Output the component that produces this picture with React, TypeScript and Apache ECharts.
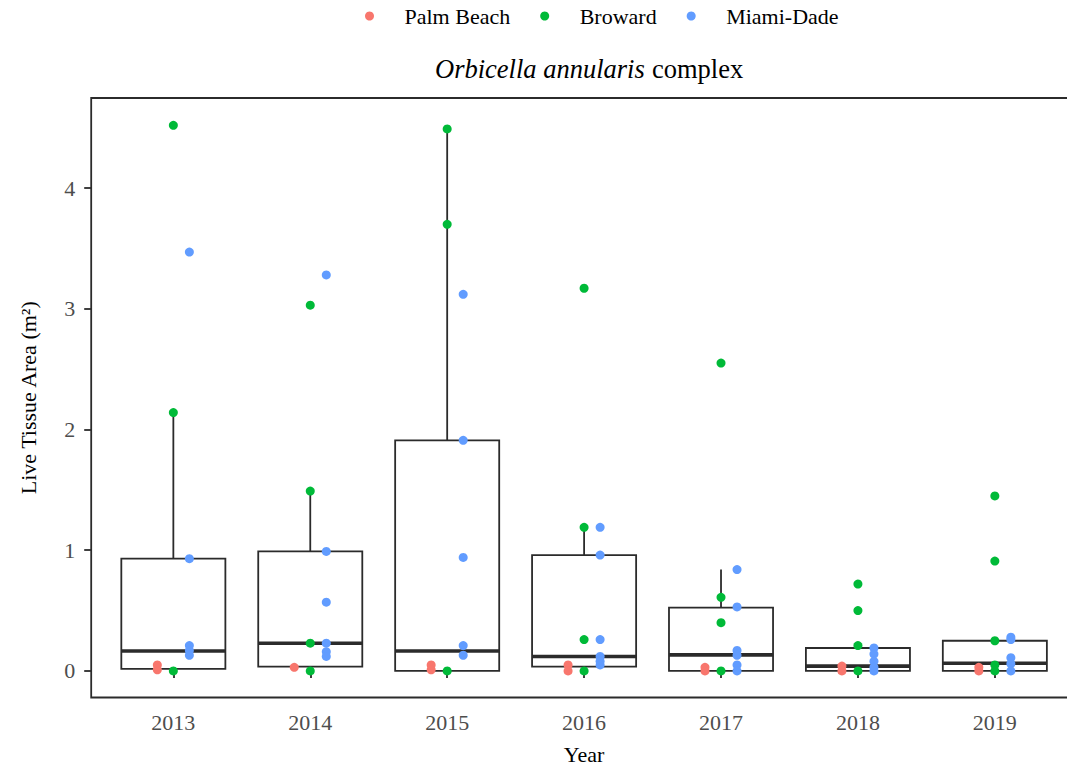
import React, { useEffect, useRef } from "react";
import * as echarts from "echarts";

// Survey years and box statistics of live tissue area (m²)
const years = [2013, 2014, 2015, 2016, 2017, 2018, 2019];
const whiskerLow = [0, 0, 0, 0, 0, 0, 0];
const q1 = [0.017, 0.036, 0.0, 0.036, 0.0, 0.0, 0.0];
const median = [0.165, 0.23, 0.165, 0.12, 0.133, 0.04, 0.064];
const q3 = [0.93, 0.99, 1.91, 0.96, 0.525, 0.19, 0.25];
const whiskerHigh = [2.14, 1.49, 4.49, 1.19, 0.84, 0.21, 0.28];

// Colony values per county, one list per year
const palmBeach = [
  [0.05, 0.01],
  [0.03],
  [0.05, 0.01],
  [0.05, 0.0],
  [0.03, 0.0],
  [0.04, 0.0],
  [0.03, 0.0],
];
const broward = [
  [4.52, 2.14, 0.0],
  [3.03, 1.49, 0.23, 0.0],
  [4.49, 3.7, 0.0],
  [3.17, 1.19, 0.26, 0.0],
  [2.55, 0.61, 0.4, 0.0],
  [0.72, 0.5, 0.21, 0.0],
  [1.45, 0.91, 0.25, 0.05, 0.0],
];
const miamiDade = [
  [3.47, 0.93, 0.21, 0.17, 0.13],
  [3.28, 0.99, 0.57, 0.23, 0.16, 0.12],
  [3.12, 1.91, 0.94, 0.21, 0.13],
  [1.19, 0.96, 0.26, 0.12, 0.08, 0.05],
  [0.84, 0.53, 0.17, 0.13, 0.05, 0.0],
  [0.19, 0.14, 0.08, 0.03, 0.0],
  [0.28, 0.26, 0.11, 0.06, 0.0],
];

const yTicks = [0, 1, 2, 3, 4];

const counties = [
  { name: "Palm Beach", values: palmBeach, color: "#F8766D", dodge: -0.117 },
  { name: "Broward", values: broward, color: "#00BA38", dodge: 0 },
  { name: "Miami-Dade", values: miamiDade, color: "#619CFF", dodge: 0.117 },
];

const FONT = "'Liberation Serif', 'Times New Roman', serif";
const BOX_WIDTH = 0.76;
const INK = "#2b2b2b";

export default function App() {
  const ref = useRef<HTMLDivElement>(null);

  useEffect(() => {
    document.body.style.margin = "0";
    document.body.style.overflow = "hidden";
    document.documentElement.style.overflow = "hidden";
    if (!ref.current) return;
    const chart = echarts.init(ref.current, null, { renderer: "svg" });

    const boxData = years.map((yr, i) => [
      yr,
      whiskerLow[i],
      q1[i],
      median[i],
      q3[i],
      whiskerHigh[i],
    ]);

    const boxSeries = {
      type: "custom",
      name: "box",
      z: 1,
      silent: true,
      encode: { x: 0, y: [1, 2, 3, 4, 5] },
      data: boxData,
      renderItem: (params: any, api: any) => {
        const x = api.value(0);
        const lo = api.coord([x, api.value(1)]);
        const b1 = api.coord([x, api.value(2)]);
        const md = api.coord([x, api.value(3)]);
        const b3 = api.coord([x, api.value(4)]);
        const hi = api.coord([x, api.value(5)]);
        const half = api.size([BOX_WIDTH, 0])[0] / 2;
        const stroke = { stroke: INK, lineWidth: 1.8, fill: "none" };
        return {
          type: "group",
          children: [
            {
              type: "line",
              shape: { x1: hi[0], y1: hi[1], x2: b3[0], y2: b3[1] },
              style: stroke,
            },
            {
              type: "line",
              shape: { x1: lo[0], y1: lo[1], x2: b1[0], y2: b1[1] },
              style: stroke,
            },
            {
              type: "rect",
              shape: {
                x: b3[0] - half,
                y: b3[1],
                width: half * 2,
                height: b1[1] - b3[1],
              },
              style: { stroke: INK, lineWidth: 1.8, fill: "#ffffff" },
            },
            {
              type: "line",
              shape: { x1: md[0] - half, y1: md[1], x2: md[0] + half, y2: md[1] },
              style: { stroke: INK, lineWidth: 3.6 },
            },
          ],
        };
      },
    };

    const pointSeries = counties.map((c) => ({
      type: "scatter",
      name: c.name,
      z: 3,
      symbol: "circle",
      symbolSize: 9,
      itemStyle: { color: c.color, opacity: 1 },
      data: years.flatMap((yr, i) => c.values[i].map((v) => [yr + c.dodge, v])),
    }));

    chart.setOption({
      animation: false,
      backgroundColor: "#ffffff",
      textStyle: { fontFamily: FONT },
      title: [
        {
          text: "Orbicella annularis",
          left: 430,
          top: 50,
          textStyle: {
            fontFamily: FONT,
            fontSize: 26.5,
            fontStyle: "italic",
            fontWeight: "normal",
            color: "#000000",
          },
        },
        {
          text: "complex",
          left: 647,
          top: 50,
          textStyle: {
            fontFamily: FONT,
            fontSize: 26.5,
            fontWeight: "normal",
            color: "#000000",
          },
        },
      ],
      legend: {
        data: counties.map((c) => c.name),
        left: 360,
        top: 0,
        orient: "horizontal",
        icon: "circle",
        itemWidth: 9,
        itemHeight: 9,
        itemGap: 30,
        selectedMode: false,
        textStyle: {
          fontFamily: FONT,
          fontSize: 22,
          color: "#000000",
          padding: [0, 0, 0, 25.5],
        },
      },
      grid: {
        left: 91.2,
        top: 98,
        right: 0,
        bottom: 73.5,
        show: true,
        borderColor: INK,
        borderWidth: 1.8,
        backgroundColor: "#ffffff",
        containLabel: false,
      },
      xAxis: {
        type: "value",
        min: 2012.4,
        max: 2019.6,
        name: "Year",
        nameLocation: "middle",
        nameGap: 46,
        nameTextStyle: { fontFamily: FONT, fontSize: 22, color: "#000000" },
        splitLine: { show: false },
        axisLine: { show: false },
        axisTick: {
          show: true,
          length: 7,
          customValues: years,
          lineStyle: { color: INK, width: 1.8 },
        },
        axisLabel: {
          customValues: years,
          margin: 14,
          fontFamily: FONT,
          fontSize: 22,
          color: "#4d4d4d",
          formatter: (v: number) => String(Math.round(v)),
        },
      },
      yAxis: {
        type: "value",
        min: -0.22,
        max: 4.746,
        name: "Live Tissue Area (m²)",
        nameLocation: "middle",
        nameGap: 52,
        nameTextStyle: { fontFamily: FONT, fontSize: 22, color: "#000000" },
        splitLine: { show: false },
        axisLine: { show: false },
        axisTick: {
          show: true,
          length: 7,
          customValues: yTicks,
          lineStyle: { color: INK, width: 1.8 },
        },
        axisLabel: {
          customValues: yTicks,
          margin: 16,
          fontFamily: FONT,
          fontSize: 22,
          color: "#4d4d4d",
        },
      },
      series: [boxSeries, ...pointSeries],
    });

    return () => {
      chart.dispose();
    };
  }, []);

  return <div ref={ref} style={{ width: 1077, height: 771 }} />;
}
